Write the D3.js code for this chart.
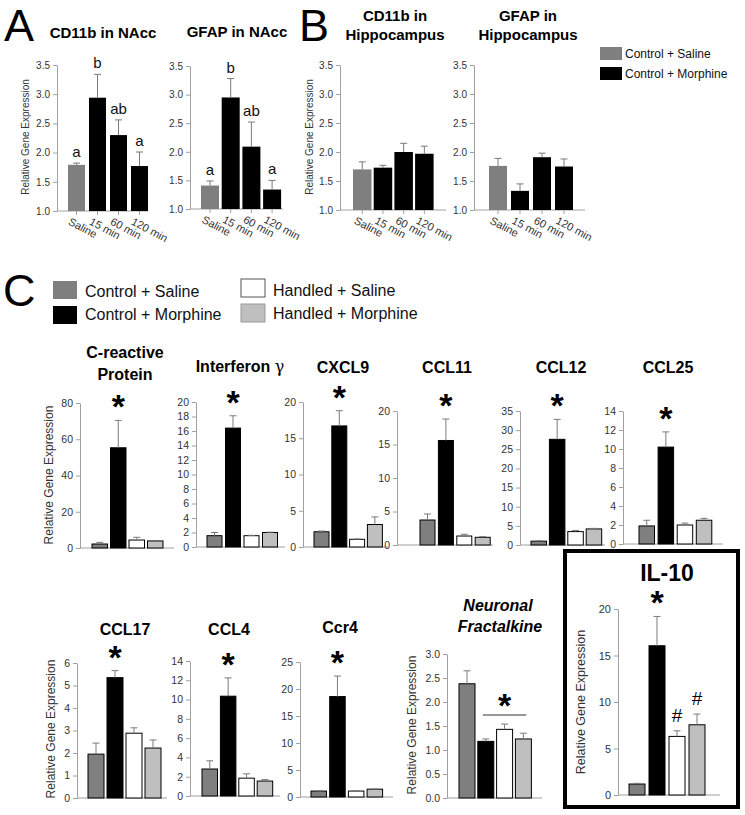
<!DOCTYPE html>
<html><head><meta charset="utf-8">
<script src="https://cdn.jsdelivr.net/npm/d3@7/dist/d3.min.js"></script>
<style>
body{margin:0;background:#fff}
svg{display:block}
text{font-family:"Liberation Sans",Arial,Helvetica,sans-serif}
</style>
</head><body>
<svg id="fig" width="745" height="815"></svg>
<script>
// ---------------- DATA ----------------
const timeLabels = ["Saline", "15 min", "60 min", "120 min"];
const timeGroups = ["Control + Saline", "Control + Morphine"];
const handlingGroups = ["Control + Saline", "Control + Morphine", "Handled + Saline", "Handled + Morphine"];

const cd11bNAcc = [1.79, 2.94, 2.30, 1.77];
const cd11bNAccErr = [0.03, 0.40, 0.26, 0.24];
const cd11bNAccLetters = ["a", "b", "ab", "a"];
const gfapNAcc = [1.41, 2.95, 2.09, 1.34];
const gfapNAccErr = [0.08, 0.33, 0.43, 0.16];
const gfapNAccLetters = ["a", "b", "ab", "a"];
const cd11bHippo = [1.70, 1.73, 2.00, 1.97];
const cd11bHippoErr = [0.13, 0.04, 0.15, 0.13];
const gfapHippo = [1.76, 1.33, 1.91, 1.75];
const gfapHippoErr = [0.13, 0.12, 0.07, 0.13];

const crp = [2.2, 55.3, 4.4, 3.9];
const crpErr = [0.9, 15.1, 1.5, 0];
const ifng = [1.56, 16.4, 1.56, 2.0];
const ifngErr = [0.44, 1.7, 0.05, 0.05];
const cxcl9 = [2.1, 16.7, 1.06, 3.1];
const cxcl9Err = [0.1, 2.1, 0.05, 1.05];
const ccl11 = [3.73, 15.6, 1.34, 1.15];
const ccl11Err = [0.9, 3.2, 0.26, 0.1];
const ccl12 = [1.0, 27.6, 3.5, 4.2];
const ccl12Err = [0.1, 5.2, 0.3, 0.15];
const ccl25 = [1.9, 10.2, 2.0, 2.5];
const ccl25Err = [0.6, 1.6, 0.2, 0.2];
const ccl17 = [1.95, 5.35, 2.88, 2.22];
const ccl17Err = [0.49, 0.31, 0.24, 0.36];
const ccl4 = [2.8, 10.35, 1.85, 1.55];
const ccl4Err = [0.85, 1.9, 0.45, 0.15];
const ccr4 = [1.1, 18.6, 1.1, 1.45];
const ccr4Err = [0.05, 3.8, 0.05, 0.05];
const fractalkine = [2.38, 1.18, 1.43, 1.23];
const fractalkineErr = [0.27, 0.05, 0.11, 0.12];
const il10 = [1.18, 16.05, 6.3, 7.55];
const il10Err = [0.08, 3.15, 0.6, 1.15];

const ticksAB = [1.0, 1.5, 2.0, 2.5, 3.0, 3.5];
const ticksCRP = [0, 20, 40, 60, 80];
const ticks20by2 = [0, 2, 4, 6, 8, 10, 12, 14, 16, 18, 20];
const ticks20by5 = [0, 5, 10, 15, 20];
const ticks35 = [0, 5, 10, 15, 20, 25, 30, 35];
const ticks14 = [0, 2, 4, 6, 8, 10, 12, 14];
const ticks6 = [0, 1, 2, 3, 4, 5, 6];
const ticks25 = [0, 5, 10, 15, 20, 25];
const ticks3 = [0, 0.5, 1.0, 1.5, 2.0, 2.5, 3.0];

// ---------------- STYLE ----------------
const COL_TIME = ["#7f7f7f", "#000000", "#000000", "#000000"];
const COL_HAND = ["#7f7f7f", "#000000", "#ffffff", "#bfbfbf"];
const AXIS_COL = "#a0a0a0";
const TEXT_COL = "#333333";
const ERR_COL = "#7a7a7a";

const svg = d3.select("#fig");

function drawChart(c) {
  const g = svg.append("g");
  const n = c.values.length;
  const y = d3.scaleLinear().domain(c.domain).range([c.y0, c.y1]);
  const gap = c.step - c.barW;
  const x = d3.scaleBand().domain(d3.range(n))
    .range([c.firstBar - gap / 2, c.firstBar - gap / 2 + n * c.step])
    .paddingInner(gap / c.step).paddingOuter(gap / c.step / 2);

  // y axis
  const ya = g.append("g").attr("transform", `translate(${c.axisX},0)`)
    .call(d3.axisLeft(y).tickValues(c.ticks).tickFormat(c.fmt || d3.format("d"))
      .tickSize(4).tickSizeOuter(0).tickPadding(3));
  ya.select(".domain").attr("stroke", AXIS_COL);
  ya.selectAll(".tick line").attr("stroke", AXIS_COL);
  ya.selectAll(".tick text").attr("fill", TEXT_COL).attr("font-size", c.tickFont)
    .attr("font-family", '"Liberation Sans",Arial,sans-serif');

  // x axis baseline
  g.append("line").attr("x1", c.axisX).attr("x2", c.xEnd)
    .attr("y1", c.y0).attr("y2", c.y0).attr("stroke", AXIS_COL);

  if (c.xlabels) {
    g.selectAll(".xt").data(c.xlabels).join("line")
      .attr("x1", (d, i) => x(i) + x.bandwidth() / 2).attr("x2", (d, i) => x(i) + x.bandwidth() / 2)
      .attr("y1", c.y0).attr("y2", c.y0 + 4).attr("stroke", AXIS_COL);
    g.selectAll(".xl").data(c.xlabels).join("text")
      .attr("transform", (d, i) => `translate(${x(i) + x.bandwidth() / 2 - 9},${c.y0 + 13}) rotate(28)`)
      .attr("font-size", 11).attr("fill", TEXT_COL).text(d => d);
  }

  // bars
  g.selectAll(".bar").data(c.values).join("rect")
    .attr("x", (d, i) => x(i)).attr("width", x.bandwidth())
    .attr("y", d => y(d)).attr("height", d => c.y0 - y(d))
    .attr("fill", (d, i) => c.colors[i])
    .attr("stroke", c.barStroke || "none").attr("stroke-width", 1);

  // error bars
  const cx = i => x(i) + x.bandwidth() / 2;
  c.errors.forEach((e, i) => {
    if (e <= 0) return;
    const top = y(c.values[i] + e);
    g.append("line").attr("x1", cx(i)).attr("x2", cx(i)).attr("y1", y(c.values[i])).attr("y2", top)
      .attr("stroke", ERR_COL);
    g.append("line").attr("x1", cx(i) - 3.5).attr("x2", cx(i) + 3.5).attr("y1", top).attr("y2", top)
      .attr("stroke", ERR_COL);
  });
  const errTop = i => y(c.values[i] + c.errors[i]);

  if (c.letters) {
    g.selectAll(".let").data(c.letters).join("text")
      .attr("x", (d, i) => cx(i)).attr("y", (d, i) => errTop(i) - 6)
      .attr("text-anchor", "middle").attr("font-size", 15).attr("fill", "#111").text(d => d);
  }
  if (c.star !== undefined) {
    g.append("text").attr("x", cx(c.star)).attr("y", errTop(c.star) - 2)
      .attr("text-anchor", "middle").attr("font-size", 34).attr("font-weight", "bold").text("*");
  }
  if (c.hash) {
    c.hash.forEach(i => {
      g.append("text").attr("x", cx(i)).attr("y", errTop(i) - 9)
        .attr("text-anchor", "middle").attr("font-size", 19).text("#");
    });
  }
  if (c.bracket) {
    const [a, b] = c.bracket;
    const yy = c.bracketY;
    g.append("line").attr("x1", x(a) + 5).attr("x2", x(b) + x.bandwidth() - 5)
      .attr("y1", yy).attr("y2", yy).attr("stroke", "#333");
    g.append("text").attr("x", (x(a) + x(b) + x.bandwidth()) / 2).attr("y", yy + 2)
      .attr("text-anchor", "middle").attr("font-size", 34).attr("font-weight", "bold").text("*");
  }
  if (c.ylabel) {
    g.append("text").attr("transform", `translate(${c.ylabel[0]},${c.ylabel[1]}) rotate(-90)`)
      .attr("text-anchor", "middle").attr("font-size", c.ylabel[2]).attr("fill", TEXT_COL)
      .text("Relative Gene Expression");
  }
  if (c.title) {
    c.title.forEach(t => {
      const tx = g.append("text").attr("x", t[1]).attr("y", t[2]).attr("text-anchor", "middle")
        .attr("font-size", t[3]).attr("font-weight", "bold");
      if (t[4]) tx.attr("font-style", "italic");
      if (t[0].endsWith(" γ")) {
        tx.append("tspan").text(t[0].slice(0, -1));
        tx.append("tspan").attr("font-weight", "normal").attr("font-family", "DejaVu Serif, serif").text("γ");
      } else tx.text(t[0]);
    });
  }
}

const fmt1 = d3.format(".1f");

// Panel A & B
drawChart({values: cd11bNAcc, errors: cd11bNAccErr, letters: cd11bNAccLetters, colors: COL_TIME,
  domain: [1, 3.5], ticks: ticksAB, fmt: fmt1, tickFont: 10, xlabels: timeLabels,
  axisX: 57, xEnd: 148, y0: 211, y1: 65, firstBar: 68, step: 21, barW: 17,
  ylabel: [29, 137, 10], title: [["CD11b in NAcc", 103, 38, 15]]});
drawChart({values: gfapNAcc, errors: gfapNAccErr, letters: gfapNAccLetters, colors: COL_TIME,
  domain: [1, 3.5], ticks: ticksAB, fmt: fmt1, tickFont: 10, xlabels: timeLabels,
  axisX: 190, xEnd: 283, y0: 209, y1: 66, firstBar: 201, step: 20.7, barW: 18,
  title: [["GFAP in NAcc", 237, 37, 15]]});
drawChart({values: cd11bHippo, errors: cd11bHippoErr, colors: COL_TIME,
  domain: [1, 3.5], ticks: ticksAB, fmt: fmt1, tickFont: 10, xlabels: timeLabels,
  axisX: 340, xEnd: 446, y0: 210, y1: 65, firstBar: 353, step: 20.7, barW: 18.5,
  ylabel: [313, 137, 10], title: [["CD11b in", 395, 21, 15], ["Hippocampus", 395, 40, 15]]});
drawChart({values: gfapHippo, errors: gfapHippoErr, colors: COL_TIME,
  domain: [1, 3.5], ticks: ticksAB, fmt: fmt1, tickFont: 10, xlabels: timeLabels,
  axisX: 474, xEnd: 585, y0: 210, y1: 65, firstBar: 489, step: 22, barW: 18,
  title: [["GFAP in", 528, 21, 15], ["Hippocampus", 528, 40, 15]]});

// Panel C row 1
const cfgC = {colors: COL_HAND, barStroke: "#000", tickFont: 10.5, star: 1};
drawChart({...cfgC, values: crp, errors: crpErr, domain: [0, 80], ticks: ticksCRP,
  axisX: 80, xEnd: 174, y0: 548, y1: 403, firstBar: 92, step: 18.5, barW: 15.5,
  ylabel: [53, 475, 12], title: [["C-reactive", 125, 358, 16], ["Protein", 125, 380, 16]]});
drawChart({...cfgC, values: ifng, errors: ifngErr, domain: [0, 20], ticks: ticks20by2,
  axisX: 196, xEnd: 285, y0: 547, y1: 402, firstBar: 207, step: 18.5, barW: 15,
  title: [["Interferon γ", 240, 372, 16]]});
drawChart({...cfgC, values: cxcl9, errors: cxcl9Err, domain: [0, 20], ticks: ticks20by5,
  axisX: 303, xEnd: 388, y0: 547, y1: 402, firstBar: 314, step: 17.8, barW: 15,
  title: [["CXCL9", 343, 373, 16]]});
drawChart({...cfgC, values: ccl11, errors: ccl11Err, domain: [0, 20], ticks: ticks20by5,
  axisX: 397, xEnd: 493, y0: 545, y1: 411, firstBar: 420, step: 18.4, barW: 15,
  title: [["CCL11", 447, 373, 16]]});
drawChart({...cfgC, values: ccl12, errors: ccl12Err, domain: [0, 35], ticks: ticks35,
  axisX: 520, xEnd: 605, y0: 545, y1: 411, firstBar: 531, step: 18.4, barW: 15.5,
  title: [["CCL12", 561, 373, 16]]});
drawChart({...cfgC, values: ccl25, errors: ccl25Err, domain: [0, 14], ticks: ticks14,
  axisX: 623, xEnd: 723, y0: 544, y1: 411, firstBar: 639, step: 19.1, barW: 15.5,
  title: [["CCL25", 668, 373, 16]]});

// Panel C row 2
drawChart({...cfgC, values: ccl17, errors: ccl17Err, domain: [0, 6], ticks: ticks6,
  axisX: 77, xEnd: 167, y0: 798, y1: 663, firstBar: 88, step: 19, barW: 16,
  ylabel: [55, 729, 12], title: [["CCL17", 125, 635, 16]]});
drawChart({...cfgC, values: ccl4, errors: ccl4Err, domain: [0, 14], ticks: ticks14,
  axisX: 190, xEnd: 280, y0: 796, y1: 661, firstBar: 202, step: 18.4, barW: 15.5,
  title: [["CCL4", 229, 635, 16]]});
drawChart({...cfgC, values: ccr4, errors: ccr4Err, domain: [0, 25], ticks: ticks25,
  axisX: 300, xEnd: 393, y0: 797, y1: 662, firstBar: 311, step: 18.7, barW: 15.5,
  title: [["Ccr4", 340, 633, 16]]});
drawChart({...cfgC, star: undefined, values: fractalkine, errors: fractalkineErr, domain: [0, 3], ticks: ticks3,
  fmt: fmt1, axisX: 447, xEnd: 542, y0: 798, y1: 654, firstBar: 459, step: 18.8, barW: 16,
  bracket: [1, 3], bracketY: 715,
  ylabel: [416, 725, 12], title: [["Neuronal", 498, 611, 16, true], ["Fractalkine", 500, 632, 16, true]]});
drawChart({...cfgC, values: il10, errors: il10Err, domain: [0, 20], ticks: ticks20by5, tickFont: 11,
  axisX: 618, xEnd: 720, y0: 795, y1: 609, firstBar: 629, step: 20, barW: 16, hash: [2, 3],
  ylabel: [585, 702, 12.5], title: [["IL-10", 667, 581, 23]]});

// IL-10 frame
svg.append("rect").attr("x", 565).attr("y", 551).attr("width", 173).attr("height", 256)
  .attr("fill", "none").attr("stroke", "#000").attr("stroke-width", 4);

// Panel letters
[["A", 4, 41], ["B", 299, 41], ["C", 3, 306]].forEach(p => {
  svg.append("text").attr("x", p[1]).attr("y", p[2]).attr("font-size", 45).text(p[0]);
});

// Legend B (time course)
timeGroups.forEach((name, i) => {
  svg.append("rect").attr("x", 600).attr("y", 47 + i * 20).attr("width", 22).attr("height", 13)
    .attr("fill", COL_TIME[i]);
  svg.append("text").attr("x", 625).attr("y", 58 + i * 20).attr("font-size", 12).attr("fill", "#111").text(name);
});

// Legend C
const legPos = [[53, 281, 85, 297], [53, 306, 85, 320], [241, 279, 273, 296], [241, 304, 273, 319]];
handlingGroups.forEach((name, i) => {
  const p = legPos[i];
  svg.append("rect").attr("x", p[0]).attr("y", p[1]).attr("width", 24).attr("height", 18)
    .attr("fill", COL_HAND[i]).attr("stroke", i === 2 ? "#555" : (i === 3 ? "#999" : "none"));
  svg.append("text").attr("x", p[2]).attr("y", p[3]).attr("font-size", 16).attr("fill", "#111").text(name);
});
</script>
</body></html>
